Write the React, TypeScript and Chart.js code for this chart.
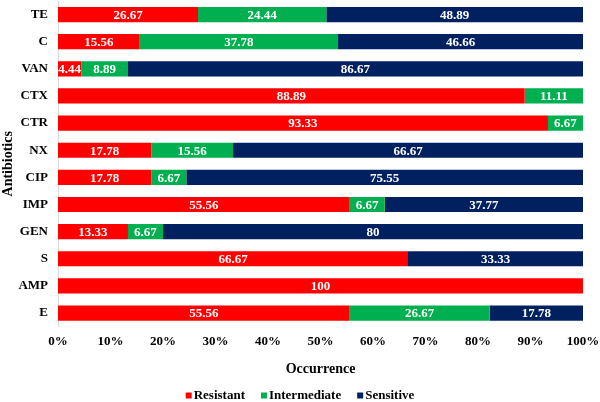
import React, { useEffect, useRef } from "react";
import { Chart, registerables } from "chart.js";

Chart.register(...registerables);

const categories = ["TE", "C", "VAN", "CTX", "CTR", "NX", "CIP", "IMP", "GEN", "S", "AMP", "E"];
const resistant = [26.67, 15.56, 4.44, 88.89, 93.33, 17.78, 17.78, 55.56, 13.33, 66.67, 100, 55.56];
const intermediate = [24.44, 37.78, 8.89, 11.11, 6.67, 15.56, 6.67, 6.67, 6.67, 0, 0, 26.67];
const sensitive = [48.89, 46.66, 86.67, 0, 0, 66.67, 75.55, 37.77, 80, 33.33, 0, 17.78];
const xTicks = [0, 10, 20, 30, 40, 50, 60, 70, 80, 90, 100];
const seriesNames = ["Resistant", "Intermediate", "Sensitive"];
const seriesColors = ["#FF0000", "#00B050", "#002060"];

const FONT = "'Liberation Serif', 'Times New Roman', serif";

const labelPlugin = {
  id: "barLabels",
  afterDatasetsDraw(chart: any) {
    const ctx = chart.ctx;
    ctx.save();
    ctx.fillStyle = "#ffffff";
    ctx.font = `bold 13px ${FONT}`;
    ctx.textAlign = "center";
    ctx.textBaseline = "middle";
    chart.data.datasets.forEach((ds: any, di: number) => {
      const meta = chart.getDatasetMeta(di);
      if (meta.hidden) return;
      meta.data.forEach((el: any, i: number) => {
        const v = ds.data[i];
        if (!v) return;
        const cx = (el.x + el.base) / 2;
        ctx.fillText(String(v), cx, el.y + 1);
      });
    });
    ctx.restore();
  },
};

const legendPlugin = {
  id: "bottomLegend",
  afterDraw(chart: any) {
    const ctx = chart.ctx;
    ctx.save();
    ctx.font = `bold 13px ${FONT}`;
    ctx.textBaseline = "middle";
    ctx.textAlign = "left";
    const box = 6;
    const gapBoxText = 2;
    const gapItems = 16;
    const items = chart.data.datasets.map((ds: any) => ({
      label: ds.label,
      color: ds.backgroundColor,
      w: box + gapBoxText + ctx.measureText(ds.label).width,
    }));
    const total = items.reduce((s: number, it: any) => s + it.w, 0) + gapItems * (items.length - 1);
    let x = (chart.width - total) / 2;
    const y = 396;
    items.forEach((it: any) => {
      ctx.fillStyle = it.color;
      ctx.fillRect(x, y - box / 2 - 0.5, box, box);
      ctx.fillStyle = "#000";
      ctx.fillText(it.label, x + box + gapBoxText, y);
      x += it.w + gapItems;
    });
    ctx.restore();
  },
};

export default function App() {
  const ref = useRef<HTMLCanvasElement>(null);
  useEffect(() => {
    if (!ref.current) return;
    const chart = new Chart(ref.current, {
      type: "bar",
      data: {
        labels: categories,
        datasets: [
          { label: seriesNames[0], data: resistant, backgroundColor: seriesColors[0], borderWidth: 0 },
          { label: seriesNames[1], data: intermediate, backgroundColor: seriesColors[1], borderWidth: 0 },
          { label: seriesNames[2], data: sensitive, backgroundColor: seriesColors[2], borderWidth: 0 },
        ],
      },
      options: {
        indexAxis: "y",
        responsive: false,
        animation: false,
        maintainAspectRatio: false,
        layout: { padding: { top: 1, right: 0, left: 0, bottom: 24 } },
        datasets: { bar: { categoryPercentage: 0.56, barPercentage: 1 } },
        scales: {
          x: {
            stacked: true,
            min: 0,
            max: 100,
            afterBuildTicks: (axis: any) => {
              axis.ticks = xTicks.map((v) => ({ value: v }));
            },
            afterFit: (axis: any) => {
              axis.paddingLeft = 0;
              axis.paddingRight = 17;
            },
            grid: { display: false, drawTicks: false },
            border: { display: false },
            ticks: {
              color: "#000",
              font: { family: FONT, size: 13, weight: "bold" },
              padding: 7,
              callback: (v: any) => v + "%",
              maxRotation: 0,
            },
            title: {
              display: true,
              text: "Occurrence",
              color: "#000",
              font: { family: FONT, size: 14, weight: "bold" },
              padding: { top: 5, bottom: 0 },
            },
          },
          y: {
            stacked: true,
            afterFit: (axis: any) => {
              axis.paddingTop = 0;
              axis.paddingBottom = 0;
              axis.width = 58;
            },
            grid: { display: false, drawTicks: false },
            border: { display: true, color: "#d9d9d9", width: 1 },
            ticks: {
              color: "#000",
              font: { family: FONT, size: 13, weight: "bold" },
              padding: 10,
            },
            title: {
              display: true,
              text: "Antibiotics",
              color: "#000",
              font: { family: FONT, size: 14, weight: "bold" },
              padding: { top: 0, bottom: 0 },
            },
          },
        },
        plugins: {
          legend: { display: false },
          tooltip: { enabled: false },
        },
      } as any,
      plugins: [labelPlugin, legendPlugin],
    });
    return () => chart.destroy();
  }, []);
  return (
    <div style={{ position: "fixed", left: 0, top: 0, width: 600, height: 402, background: "#fff" }}>
      <canvas ref={ref} width={600} height={402} style={{ width: 600, height: 402 }} />
    </div>
  );
}
